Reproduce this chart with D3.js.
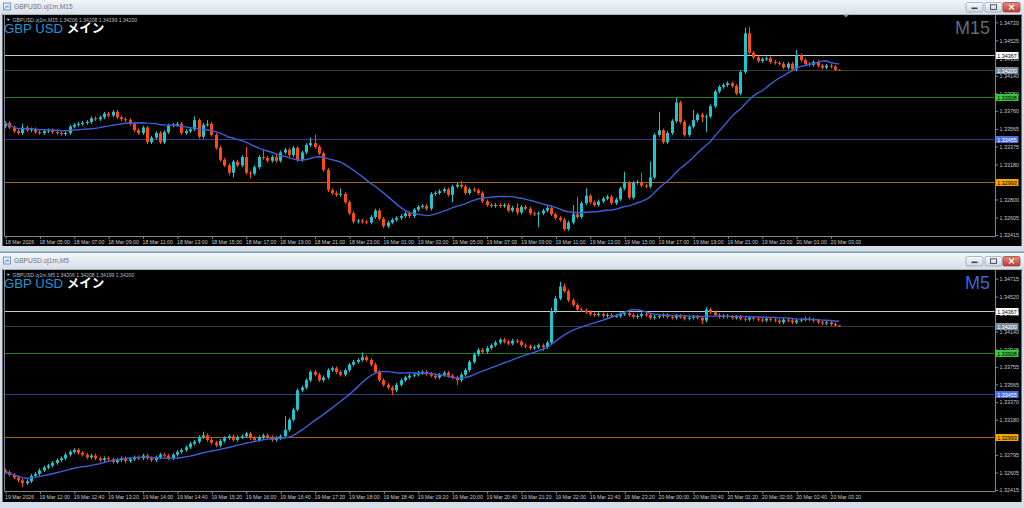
<!DOCTYPE html>
<html><head><meta charset="utf-8">
<script src="https://cdn.jsdelivr.net/npm/d3@7/dist/d3.min.js"></script>
<style>
html,body{margin:0;padding:0;background:#d3dce6;overflow:hidden}
text{font-family:"Liberation Sans",Arial,sans-serif}
</style></head>
<body><svg id="chart" width="1024" height="508"></svg>
<script>
// ---------------- DATA ----------------
const m15Close=[1.3363,1.3358,1.3354,1.3352,1.3358,1.3355,1.3356,1.3353,1.3352,1.3354,
1.3355,1.3353,1.3352,1.3351,1.3352,1.3359,1.3361,1.3362,1.3363,1.3364,
1.3368,1.3367,1.3369,1.3373,1.3371,1.3375,1.3369,1.3367,1.3366,1.3362,
1.3355,1.3352,1.3358,1.3342,1.3347,1.3352,1.3342,1.3353,1.3360,1.3361,
1.3362,1.3352,1.3354,1.3356,1.3366,1.3348,1.3361,1.3362,1.3350,1.3336,
1.3323,1.3317,1.3309,1.3321,1.3317,1.3326,1.3309,1.3308,1.3315,1.3326,
1.3325,1.3322,1.3326,1.3322,1.3331,1.3334,1.3328,1.3336,1.3323,1.3331,
1.3339,1.3341,1.3337,1.3330,1.3312,1.3290,1.3287,1.3285,1.3286,1.3277,
1.3265,1.3256,1.3257,1.3256,1.3255,1.3261,1.3268,1.3259,1.3251,1.3255,
1.3258,1.3260,1.3262,1.3265,1.3262,1.3269,1.3272,1.3273,1.3270,1.3286,
1.3287,1.3289,1.3291,1.3285,1.3294,1.3296,1.3294,1.3287,1.3291,1.3290,
1.3287,1.3278,1.3274,1.3273,1.3274,1.3273,1.3274,1.3268,1.3271,1.3266,
1.3272,1.3270,1.3265,1.3264,1.3265,1.3268,1.3271,1.3264,1.3260,1.3258,
1.3248,1.3255,1.3264,1.3261,1.3276,1.3284,1.3277,1.3274,1.3278,1.3281,
1.3283,1.3276,1.3280,1.3292,1.3298,1.3282,1.3298,1.3299,1.3295,1.3294,
1.3304,1.3350,1.3355,1.3342,1.3352,1.3365,1.3385,1.3364,1.3350,1.3359,
1.3366,1.3372,1.3369,1.3370,1.3381,1.3397,1.3402,1.3404,1.3406,1.3403,
1.3395,1.3418,1.3460,1.3439,1.3434,1.3430,1.3432,1.3433,1.3429,1.3428,
1.3427,1.3423,1.3427,1.3421,1.3436,1.3431,1.3427,1.3426,1.3429,1.3425,
1.3423,1.3425,1.3424,1.34206,1.34200];
const m15Open=[1.3359,1.3363,1.3358,1.3354,1.3352,1.3358,1.3355,1.3356,1.3353,1.3352,
1.3354,1.3355,1.3353,1.3352,1.3351,1.3352,1.3359,1.3361,1.3362,1.3363,
1.3364,1.3368,1.3367,1.3369,1.3373,1.3371,1.3375,1.3369,1.3367,1.3366,
1.3362,1.3355,1.3352,1.3358,1.3342,1.3347,1.3352,1.3342,1.3353,1.3360,
1.3361,1.3362,1.3352,1.3354,1.3356,1.3366,1.3348,1.3361,1.3362,1.3350,
1.3336,1.3323,1.3317,1.3309,1.3321,1.3317,1.3326,1.3309,1.3308,1.3315,
1.3326,1.3325,1.3322,1.3326,1.3322,1.3331,1.3334,1.3328,1.3336,1.3323,
1.3331,1.3339,1.3341,1.3337,1.3330,1.3312,1.3290,1.3287,1.3285,1.3286,
1.3277,1.3265,1.3256,1.3257,1.3256,1.3255,1.3261,1.3268,1.3259,1.3251,
1.3255,1.3258,1.3260,1.3262,1.3265,1.3262,1.3269,1.3272,1.3273,1.3270,
1.3286,1.3287,1.3289,1.3291,1.3285,1.3294,1.3296,1.3294,1.3287,1.3291,
1.3290,1.3287,1.3278,1.3274,1.3273,1.3274,1.3273,1.3274,1.3268,1.3271,
1.3266,1.3272,1.3270,1.3265,1.3264,1.3265,1.3268,1.3271,1.3264,1.3260,
1.3258,1.3248,1.3255,1.3264,1.3261,1.3276,1.3284,1.3277,1.3274,1.3278,
1.3281,1.3283,1.3276,1.3280,1.3292,1.3298,1.3282,1.3298,1.3299,1.3295,
1.3294,1.3304,1.3350,1.3355,1.3342,1.3352,1.3365,1.3385,1.3364,1.3350,
1.3359,1.3366,1.3372,1.3369,1.3370,1.3381,1.3397,1.3402,1.3404,1.3406,
1.3403,1.3395,1.3418,1.3460,1.3439,1.3434,1.3430,1.3432,1.3433,1.3429,
1.3428,1.3427,1.3423,1.3427,1.3421,1.3436,1.3431,1.3427,1.3426,1.3429,
1.3425,1.3423,1.3425,1.3424,1.34206];
const m15High=[1.3365,1.3365,1.3360,1.3356,1.3362,1.3360,1.3358,1.3358,1.3355,1.3356,
1.3357,1.3357,1.3355,1.3354,1.3354,1.3361,1.3363,1.3364,1.3365,1.3366,
1.3370,1.3370,1.3371,1.3375,1.3375,1.3377,1.3377,1.3371,1.3369,1.3368,
1.3364,1.3357,1.3360,1.3360,1.3349,1.3354,1.3354,1.3355,1.3362,1.3363,
1.3364,1.3364,1.3356,1.3358,1.3370,1.3368,1.3363,1.3366,1.3364,1.3352,
1.3338,1.3325,1.3319,1.3323,1.3323,1.3328,1.3337,1.3311,1.3317,1.3328,
1.3334,1.3327,1.3328,1.3328,1.3333,1.3336,1.3336,1.3338,1.3338,1.3333,
1.3341,1.3347,1.3350,1.3339,1.3332,1.3314,1.3292,1.3289,1.3292,1.3288,
1.3279,1.3267,1.3259,1.3259,1.3258,1.3263,1.3270,1.3270,1.3261,1.3257,
1.3260,1.3262,1.3264,1.3267,1.3267,1.3271,1.3274,1.3275,1.3275,1.3288,
1.3289,1.3291,1.3293,1.3293,1.3296,1.3298,1.3300,1.3296,1.3293,1.3293,
1.3292,1.3289,1.3280,1.3276,1.3276,1.3276,1.3276,1.3276,1.3273,1.3276,
1.3274,1.3274,1.3272,1.3267,1.3267,1.3270,1.3273,1.3273,1.3266,1.3262,
1.3260,1.3257,1.3274,1.3283,1.3278,1.3292,1.3286,1.3279,1.3280,1.3283,
1.3285,1.3285,1.3282,1.3294,1.3310,1.3300,1.3300,1.3301,1.3309,1.3297,
1.3321,1.3352,1.3375,1.3357,1.3354,1.3367,1.3390,1.3387,1.3366,1.3361,
1.3377,1.3374,1.3374,1.3372,1.3383,1.3399,1.3404,1.3406,1.3408,1.3408,
1.3405,1.3420,1.3466,1.3467,1.3441,1.3436,1.3434,1.3435,1.3435,1.3431,
1.3430,1.3429,1.3429,1.3429,1.3442,1.3438,1.3433,1.3429,1.3431,1.3431,
1.3427,1.3427,1.3427,1.3426,1.34208];
const m15Low=[1.3357,1.3356,1.3352,1.3350,1.3350,1.3353,1.3353,1.3351,1.3350,1.3350,
1.3352,1.3351,1.3350,1.3349,1.3349,1.3350,1.3357,1.3359,1.3360,1.3361,
1.3362,1.3365,1.3365,1.3367,1.3369,1.3369,1.3367,1.3365,1.3364,1.3360,
1.3353,1.3350,1.3350,1.3340,1.3340,1.3345,1.3340,1.3340,1.3351,1.3358,
1.3359,1.3350,1.3350,1.3352,1.3354,1.3346,1.3346,1.3359,1.3348,1.3334,
1.3321,1.3315,1.3306,1.3304,1.3315,1.3315,1.3307,1.3303,1.3306,1.3313,
1.3323,1.3320,1.3320,1.3320,1.3320,1.3329,1.3326,1.3326,1.3321,1.3321,
1.3329,1.3337,1.3335,1.3328,1.3310,1.3288,1.3285,1.3283,1.3283,1.3275,
1.3263,1.3254,1.3254,1.3254,1.3253,1.3253,1.3259,1.3257,1.3249,1.3249,
1.3253,1.3256,1.3258,1.3260,1.3260,1.3260,1.3267,1.3270,1.3268,1.3268,
1.3284,1.3285,1.3287,1.3283,1.3277,1.3292,1.3292,1.3285,1.3285,1.3288,
1.3285,1.3276,1.3272,1.3271,1.3271,1.3271,1.3271,1.3266,1.3266,1.3263,
1.3264,1.3268,1.3263,1.3262,1.3250,1.3263,1.3266,1.3262,1.3258,1.3256,
1.3246,1.3246,1.3253,1.3259,1.3259,1.3274,1.3275,1.3272,1.3272,1.3276,
1.3279,1.3274,1.3274,1.3278,1.3290,1.3280,1.3280,1.3296,1.3293,1.3292,
1.3292,1.3302,1.3348,1.3340,1.3340,1.3350,1.3363,1.3362,1.3348,1.3348,
1.3357,1.3364,1.3364,1.3353,1.3368,1.3379,1.3395,1.3400,1.3402,1.3401,
1.3393,1.3393,1.3416,1.3437,1.3432,1.3428,1.3428,1.3430,1.3427,1.3426,
1.3425,1.3421,1.3421,1.3419,1.3419,1.3429,1.3425,1.3424,1.3424,1.3423,
1.3421,1.3421,1.3422,1.3419,1.34199];

const m5Close=[1.3261,1.3258,1.3255,1.3252,1.3249,1.3251,1.3257,1.3259,1.3263,1.3266,
1.3268,1.3271,1.3274,1.3276,1.3280,1.3283,1.3285,1.3282,1.3280,1.3277,
1.3279,1.3276,1.3274,1.3276,1.3275,1.3272,1.3274,1.3276,1.3273,1.3275,
1.3277,1.3276,1.3279,1.3276,1.3274,1.3277,1.3280,1.3279,1.3276,1.3280,
1.3283,1.3285,1.3288,1.3292,1.3294,1.3299,1.3301,1.3296,1.3293,1.3290,
1.3295,1.3298,1.3300,1.3296,1.3299,1.3300,1.3303,1.3298,1.3296,1.3299,
1.3301,1.3299,1.3296,1.3298,1.3300,1.3307,1.3318,1.3329,1.3350,1.3353,
1.3361,1.3370,1.3367,1.3361,1.3364,1.3372,1.3374,1.3370,1.3367,1.3372,
1.3378,1.3381,1.3383,1.3386,1.3383,1.3378,1.3370,1.3361,1.3356,1.3353,
1.3350,1.3356,1.3361,1.3364,1.3366,1.3367,1.3369,1.3370,1.3368,1.3366,
1.3364,1.3367,1.3369,1.3366,1.3364,1.3361,1.3367,1.3372,1.3381,1.3389,
1.3394,1.3392,1.3396,1.3399,1.3402,1.3405,1.3403,1.3401,1.3404,1.3403,
1.3399,1.3398,1.3396,1.3397,1.3399,1.3397,1.3402,1.3436,1.3450,1.3463,
1.3458,1.3448,1.3443,1.3438,1.3437,1.3435,1.3433,1.3432,1.3433,1.3431,
1.3432,1.3431,1.3431,1.3433,1.3434,1.3432,1.3430,1.3431,1.3433,1.3432,
1.3429,1.3430,1.3431,1.3432,1.3430,1.3429,1.3431,1.3430,1.3428,1.3429,
1.3430,1.3429,1.3426,1.3438,1.3435,1.3432,1.3430,1.3431,1.3430,1.3429,
1.3430,1.3428,1.3427,1.3429,1.3428,1.3427,1.3426,1.3428,1.3427,1.3426,
1.3424,1.3427,1.3426,1.3424,1.3426,1.3427,1.3428,1.3427,1.3426,1.3424,
1.3423,1.3424,1.3422,1.34206,1.34200];
const m5Open=[1.3263,1.3261,1.3258,1.3255,1.3252,1.3249,1.3251,1.3257,1.3259,1.3263,
1.3266,1.3268,1.3271,1.3274,1.3276,1.3280,1.3283,1.3285,1.3282,1.3280,
1.3277,1.3279,1.3276,1.3274,1.3276,1.3275,1.3272,1.3274,1.3276,1.3273,
1.3275,1.3277,1.3276,1.3279,1.3276,1.3274,1.3277,1.3280,1.3279,1.3276,
1.3280,1.3283,1.3285,1.3288,1.3292,1.3294,1.3299,1.3301,1.3296,1.3293,
1.3290,1.3295,1.3298,1.3300,1.3296,1.3299,1.3300,1.3303,1.3298,1.3296,
1.3299,1.3301,1.3299,1.3296,1.3298,1.3300,1.3307,1.3318,1.3329,1.3350,
1.3353,1.3361,1.3370,1.3367,1.3361,1.3364,1.3372,1.3374,1.3370,1.3367,
1.3372,1.3378,1.3381,1.3383,1.3386,1.3383,1.3378,1.3370,1.3361,1.3356,
1.3353,1.3350,1.3356,1.3361,1.3364,1.3366,1.3367,1.3369,1.3370,1.3368,
1.3366,1.3364,1.3367,1.3369,1.3366,1.3364,1.3361,1.3367,1.3372,1.3381,
1.3389,1.3394,1.3392,1.3396,1.3399,1.3402,1.3405,1.3403,1.3401,1.3404,
1.3403,1.3399,1.3398,1.3396,1.3397,1.3399,1.3397,1.3402,1.3436,1.3450,
1.3463,1.3458,1.3448,1.3443,1.3438,1.3437,1.3435,1.3433,1.3432,1.3433,
1.3431,1.3432,1.3431,1.3431,1.3433,1.3434,1.3432,1.3430,1.3431,1.3433,
1.3432,1.3429,1.3430,1.3431,1.3432,1.3430,1.3429,1.3431,1.3430,1.3428,
1.3429,1.3430,1.3429,1.3426,1.3438,1.3435,1.3432,1.3430,1.3431,1.3430,
1.3429,1.3430,1.3428,1.3427,1.3429,1.3428,1.3427,1.3426,1.3428,1.3427,
1.3426,1.3424,1.3427,1.3426,1.3424,1.3426,1.3427,1.3428,1.3427,1.3426,
1.3424,1.3423,1.3424,1.3422,1.34206];
const m5High=[1.3265,1.3263,1.3260,1.3257,1.3254,1.3253,1.3259,1.3261,1.3265,1.3268,
1.3270,1.3273,1.3276,1.3278,1.3282,1.3285,1.3287,1.3287,1.3284,1.3282,
1.3281,1.3281,1.3278,1.3278,1.3278,1.3277,1.3276,1.3278,1.3278,1.3277,
1.3279,1.3279,1.3281,1.3281,1.3278,1.3279,1.3282,1.3282,1.3281,1.3282,
1.3285,1.3287,1.3290,1.3294,1.3296,1.3301,1.3305,1.3303,1.3298,1.3295,
1.3297,1.3300,1.3302,1.3302,1.3301,1.3302,1.3305,1.3305,1.3300,1.3301,
1.3303,1.3303,1.3301,1.3300,1.3302,1.3322,1.3320,1.3331,1.3352,1.3355,
1.3363,1.3372,1.3372,1.3369,1.3366,1.3374,1.3376,1.3376,1.3372,1.3374,
1.3380,1.3383,1.3385,1.3391,1.3388,1.3385,1.3380,1.3372,1.3363,1.3358,
1.3355,1.3358,1.3363,1.3366,1.3368,1.3369,1.3371,1.3372,1.3372,1.3370,
1.3368,1.3369,1.3371,1.3371,1.3368,1.3366,1.3369,1.3374,1.3383,1.3391,
1.3396,1.3396,1.3398,1.3401,1.3404,1.3407,1.3407,1.3405,1.3406,1.3406,
1.3405,1.3401,1.3400,1.3399,1.3401,1.3401,1.3404,1.3440,1.3453,1.3468,
1.3466,1.3460,1.3450,1.3445,1.3440,1.3439,1.3437,1.3435,1.3435,1.3435,
1.3434,1.3434,1.3433,1.3435,1.3436,1.3436,1.3434,1.3433,1.3435,1.3435,
1.3434,1.3432,1.3433,1.3434,1.3434,1.3432,1.3433,1.3433,1.3432,1.3431,
1.3432,1.3432,1.3431,1.3441,1.3440,1.3437,1.3434,1.3433,1.3433,1.3432,
1.3432,1.3432,1.3430,1.3431,1.3431,1.3430,1.3429,1.3430,1.3430,1.3429,
1.3428,1.3429,1.3429,1.3428,1.3428,1.3429,1.3430,1.3430,1.3429,1.3428,
1.3426,1.3426,1.3426,1.3424,1.34208];
const m5Low=[1.3259,1.3256,1.3253,1.3250,1.3245,1.3247,1.3249,1.3255,1.3257,1.3261,
1.3264,1.3266,1.3269,1.3272,1.3274,1.3278,1.3281,1.3280,1.3278,1.3275,
1.3275,1.3274,1.3272,1.3272,1.3273,1.3270,1.3270,1.3272,1.3271,1.3271,
1.3273,1.3274,1.3274,1.3274,1.3272,1.3272,1.3275,1.3277,1.3274,1.3274,
1.3278,1.3281,1.3283,1.3286,1.3290,1.3292,1.3297,1.3294,1.3291,1.3288,
1.3288,1.3293,1.3296,1.3294,1.3294,1.3297,1.3298,1.3296,1.3294,1.3294,
1.3297,1.3297,1.3294,1.3294,1.3296,1.3298,1.3305,1.3316,1.3327,1.3348,
1.3351,1.3359,1.3365,1.3359,1.3359,1.3362,1.3370,1.3368,1.3365,1.3365,
1.3370,1.3376,1.3379,1.3381,1.3381,1.3376,1.3368,1.3359,1.3354,1.3351,
1.3345,1.3348,1.3354,1.3359,1.3362,1.3364,1.3365,1.3367,1.3366,1.3364,
1.3362,1.3362,1.3365,1.3364,1.3362,1.3356,1.3359,1.3365,1.3370,1.3379,
1.3387,1.3390,1.3390,1.3394,1.3397,1.3400,1.3401,1.3399,1.3399,1.3401,
1.3397,1.3396,1.3394,1.3394,1.3395,1.3393,1.3395,1.3400,1.3434,1.3448,
1.3456,1.3446,1.3441,1.3436,1.3435,1.3433,1.3431,1.3430,1.3430,1.3429,
1.3429,1.3429,1.3429,1.3429,1.3431,1.3430,1.3428,1.3428,1.3429,1.3430,
1.3427,1.3427,1.3428,1.3429,1.3428,1.3427,1.3427,1.3428,1.3426,1.3426,
1.3427,1.3427,1.3422,1.3424,1.3433,1.3430,1.3428,1.3428,1.3428,1.3427,
1.3427,1.3426,1.3425,1.3425,1.3426,1.3425,1.3424,1.3424,1.3425,1.3424,
1.3422,1.3422,1.3424,1.3422,1.3422,1.3424,1.3425,1.3425,1.3424,1.3422,
1.3421,1.3421,1.3420,1.34196,1.34199];

const m15TimeLabels=["18 Mar 2026","18 Mar 05:00","18 Mar 07:00","18 Mar 09:00","18 Mar 11:00","18 Mar 13:00","18 Mar 15:00","18 Mar 17:00","18 Mar 19:00","18 Mar 21:00","18 Mar 23:00","19 Mar 01:00","19 Mar 03:00","19 Mar 05:00","19 Mar 07:00","19 Mar 09:00","19 Mar 11:00","19 Mar 13:00","19 Mar 15:00","19 Mar 17:00","19 Mar 19:00","19 Mar 21:00","19 Mar 23:00","20 Mar 01:00","20 Mar 03:00"];
const m5TimeLabels=["19 Mar 2026","19 Mar 12:00","19 Mar 12:40","19 Mar 13:20","19 Mar 14:00","19 Mar 14:40","19 Mar 15:20","19 Mar 16:00","19 Mar 16:40","19 Mar 17:20","19 Mar 18:00","19 Mar 18:40","19 Mar 19:20","19 Mar 20:00","19 Mar 20:40","19 Mar 21:20","19 Mar 22:00","19 Mar 22:40","19 Mar 23:20","20 Mar 00:00","20 Mar 00:40","20 Mar 01:20","20 Mar 02:00","20 Mar 02:40","20 Mar 03:20"];
const m15PriceTicks=["1.34720","1.34525","1.34330","1.34140","1.33950","1.33760","1.33565","1.33375","1.33180","1.32990","1.32800","1.32605","1.32415"];
const m5PriceTicks=["1.34715","1.34520","1.34330","1.34140","1.33945","1.33755","1.33565","1.33370","1.33180","1.32990","1.32795","1.32605","1.32415"];
const levelPrices=[1.34367,1.34200,1.33908,1.33455,1.32993];
const levelLabels=["1.34367","1.34200","1.33908","1.33455","1.32993"];
const lastQuote=["1.34206","1.34208","1.34199","1.34200"];
const maPeriod=20;

// ---------------- STYLE ----------------
const BULL="#1cc6cf", BEAR="#ff4a12", MA="#3d5fd6", AXIS="#7d8894", LBL="#c3c8ce";
const levelLine=["#c8c8c8","#3a3a3a","#1d7d1d","#2b3f8e","#a8661c"];
const levelBox=["#ffffff","#7d8a98","#34c834","#4a6fdc","#f5a300"];
const levelTxt=["#000","#fff","#000","#fff","#000"];

const svg=d3.select("#chart");
const defs=svg.append("defs");
function lg(id,stops){const g=defs.append("linearGradient").attr("id",id).attr("x1",0).attr("y1",0).attr("x2",0).attr("y2",1);
  stops.forEach(s=>g.append("stop").attr("offset",s[0]).attr("stop-color",s[1]));}
lg("tb",[[0,"#f3f6f9"],[1,"#d7dfe8"]]);
lg("btn",[[0,"#f8fafc"],[1,"#cdd7e1"]]);
lg("cls",[[0,"#e58b80"],[1,"#c23b2e"]]);

svg.append("rect").attr("width",1024).attr("height",508).attr("fill","#d5dde6");

function sma(a,p){return a.map((_,i)=>d3.mean(a.slice(Math.max(0,i-p+1),i+1)));}

const panels=[
 {title:"GBPUSD.oj1m,M15",tf:"M15",tfColor:"#5f6c7a",tb0:0,tb1:14,bl0:14,bl1:246,p0:15,p1:236,
  dom:[1.32415,1.34720],rng:[235,22.3],O:m15Open,H:m15High,L:m15Low,C:m15Close,times:m15TimeLabels,ticks:m15PriceTicks,marker:true},
 {title:"GBPUSD.oj1m,M5",tf:"M5",tfColor:"#3b66d4",tb0:253,tb1:269,bl0:269,bl1:502,p0:270,p1:491,
  dom:[1.32415,1.34715],rng:[490,278.7],O:m5Open,H:m5High,L:m5Low,C:m5Close,times:m5TimeLabels,ticks:m5PriceTicks,marker:false}
];

panels.forEach((P,pi)=>{
  const g=svg.append("g");
  g.append("rect").attr("x",0).attr("y",P.tb0).attr("width",1024).attr("height",P.tb1-P.tb0).attr("fill","url(#tb)");
  if(pi===1) g.append("rect").attr("x",0).attr("y",P.tb0-1.5).attr("width",1024).attr("height",1.5).attr("fill","#6f9db5");
  const cy=(P.tb0+P.tb1)/2;
  g.append("rect").attr("x",3.5).attr("y",cy-4).attr("width",7).attr("height",7).attr("fill","#dce9f5").attr("stroke","#5f86b0").attr("stroke-width",0.8);
  g.append("path").attr("d",`M5,${cy+1.5}L7,${cy-1}L9,${cy}`).attr("stroke","#2d6cb0").attr("fill","none").attr("stroke-width",0.8);
  g.append("text").attr("x",14).attr("y",cy+2.4).attr("font-size",6.6).attr("fill","#6d737a").text(P.title);
  [966,985,1003].forEach((bx,i)=>{
    g.append("rect").attr("x",bx).attr("y",cy-4.5).attr("width",17).attr("height",9.5).attr("rx",1.5)
      .attr("fill",i===2?"url(#cls)":"url(#btn)").attr("stroke",i===2?"#8c3b33":"#8f9dad").attr("stroke-width",0.7);
  });
  g.append("rect").attr("x",971.5).attr("y",cy+0.5).attr("width",6).attr("height",1.6).attr("fill","#3b4450");
  g.append("rect").attr("x",990.5).attr("y",cy-2.2).attr("width",6).attr("height",4.6).attr("fill","none").attr("stroke","#3b4450").attr("stroke-width",0.9);
  g.append("path").attr("d",`M1009,${cy-2.2}L1014,${cy+2.6}M1014,${cy-2.2}L1009,${cy+2.6}`).attr("stroke","#fff").attr("stroke-width",1.3);
  g.append("rect").attr("x",2.5).attr("y",P.bl0).attr("width",1019).attr("height",P.bl1-P.bl0).attr("fill","#000");
  g.append("line").attr("x1",2.5).attr("x2",1021.5).attr("y1",P.bl0+0.5).attr("y2",P.bl0+0.5).attr("stroke","#a9b2bb").attr("stroke-width",1);

  const x=d3.scaleLinear().domain([0,194]).range([5,839.2]);
  const y=d3.scaleLinear().domain(P.dom).range(P.rng);
  const clipId="clip"+pi;
  defs.append("clipPath").attr("id",clipId).append("rect").attr("x",4.5).attr("y",P.p0).attr("width",990).attr("height",P.p1-P.p0);

  const gl=g.append("g").attr("clip-path",`url(#${clipId})`);
  levelPrices.forEach((v,i)=>{
    const yy=Math.round(y(v))+0.5;
    gl.append("line").attr("x1",4).attr("x2",995).attr("y1",yy).attr("y2",yy).attr("stroke",levelLine[i]).attr("stroke-width",1);
  });

  const gc=g.append("g").attr("clip-path",`url(#${clipId})`);
  const idx=d3.range(P.C.length);
  gc.selectAll("line.wick").data(idx).join("line").attr("class","wick")
    .attr("x1",i=>Math.round(x(i))+0.5).attr("x2",i=>Math.round(x(i))+0.5)
    .attr("y1",i=>y(P.H[i])).attr("y2",i=>y(P.L[i]))
    .attr("stroke",i=>P.C[i]>=P.O[i]?BULL:BEAR).attr("stroke-width",1);
  gc.selectAll("rect.body").data(idx).join("rect").attr("class","body")
    .attr("x",i=>Math.round(x(i))-1).attr("width",3)
    .attr("y",i=>Math.min(y(P.O[i]),y(P.C[i])))
    .attr("height",i=>Math.max(1,Math.abs(y(P.O[i])-y(P.C[i]))))
    .attr("fill",i=>P.C[i]>=P.O[i]?BULL:BEAR);

  const ma=sma(P.C,maPeriod);
  gc.append("path").datum(ma).attr("fill","none").attr("stroke",MA).attr("stroke-width",1.4)
    .attr("d",d3.line().x((d,i)=>x(i)).y(d=>y(d)));

  g.append("path").attr("d",`M4.5,${P.p0}V${P.p1+0.5}H995.5V${P.p0}`).attr("fill","none").attr("stroke",AXIS).attr("stroke-width",1);

  // right axis (a label fully hidden behind a level box is left blank, as in the reference)
  const hidden=v=>levelPrices.some(l=>Math.abs(y(l)-y(v))<2);
  const ay=g.append("g").attr("transform","translate(995.5,0)")
    .call(d3.axisRight(y).tickValues(P.ticks.map(Number)).tickFormat((d,i)=>hidden(d)?"":P.ticks[i]).tickSize(2.5).tickPadding(1.5));
  ay.select(".domain").remove();
  ay.selectAll("line").attr("stroke",AXIS);
  ay.selectAll("text").attr("fill",LBL).attr("font-size",5.4).attr("font-family","'Liberation Sans',Arial,sans-serif");

  levelPrices.forEach((v,i)=>{
    const yy=Math.round(y(v))+0.5;
    g.append("rect").attr("x",996).attr("y",yy-3.5).attr("width",22.5).attr("height",7).attr("fill",levelBox[i]);
    g.append("text").attr("x",997.2).attr("y",yy+2).attr("font-size",5.4).attr("fill",levelTxt[i]).text(levelLabels[i]);
  });

  const ax=g.append("g").attr("transform",`translate(0,${P.p1+0.5})`)
    .call(d3.axisBottom(x).tickValues(d3.range(0,193,8)).tickFormat((d,i)=>P.times[i]).tickSize(2.5).tickPadding(1.2));
  ax.select(".domain").remove();
  ax.selectAll("line").attr("stroke",AXIS).attr("transform","translate(0.5,0)");
  ax.selectAll("text").attr("fill",LBL).attr("font-size",5.2).attr("text-anchor","start").attr("dx",-0.5)
    .attr("font-family","'Liberation Sans',Arial,sans-serif");

  g.append("path").attr("d",`M6.5,${P.p0+3.8}L10,${P.p0+3.8}L8.25,${P.p0+6}Z`).attr("fill","#b7bcc2");
  g.append("text").attr("x",12.5).attr("y",P.p0+7).attr("font-size",5.1).attr("fill","#b7bcc2")
    .text(P.title+"  "+lastQuote.join(" "));
  const t=g.append("text").attr("x",4).attr("y",P.p0+17.6).attr("font-size",13.2);
  t.append("tspan").attr("fill","#1a98d8").text("GBP USD ");
  t.append("tspan").attr("fill","#ffffff").attr("font-family","'Noto Sans CJK JP',sans-serif").attr("font-weight","bold").attr("font-size",12.5).text("メイン");
  g.append("text").attr("x",990).attr("y",P.p0+19.2).attr("text-anchor","end").attr("font-size",18).attr("fill",P.tfColor).text(P.tf);
  if(P.marker) g.append("path").attr("d",`M843.5,${P.p0}L848.5,${P.p0}L846,${P.p0+2.5}Z`).attr("fill","#808890");
});
</script>
</body></html>
